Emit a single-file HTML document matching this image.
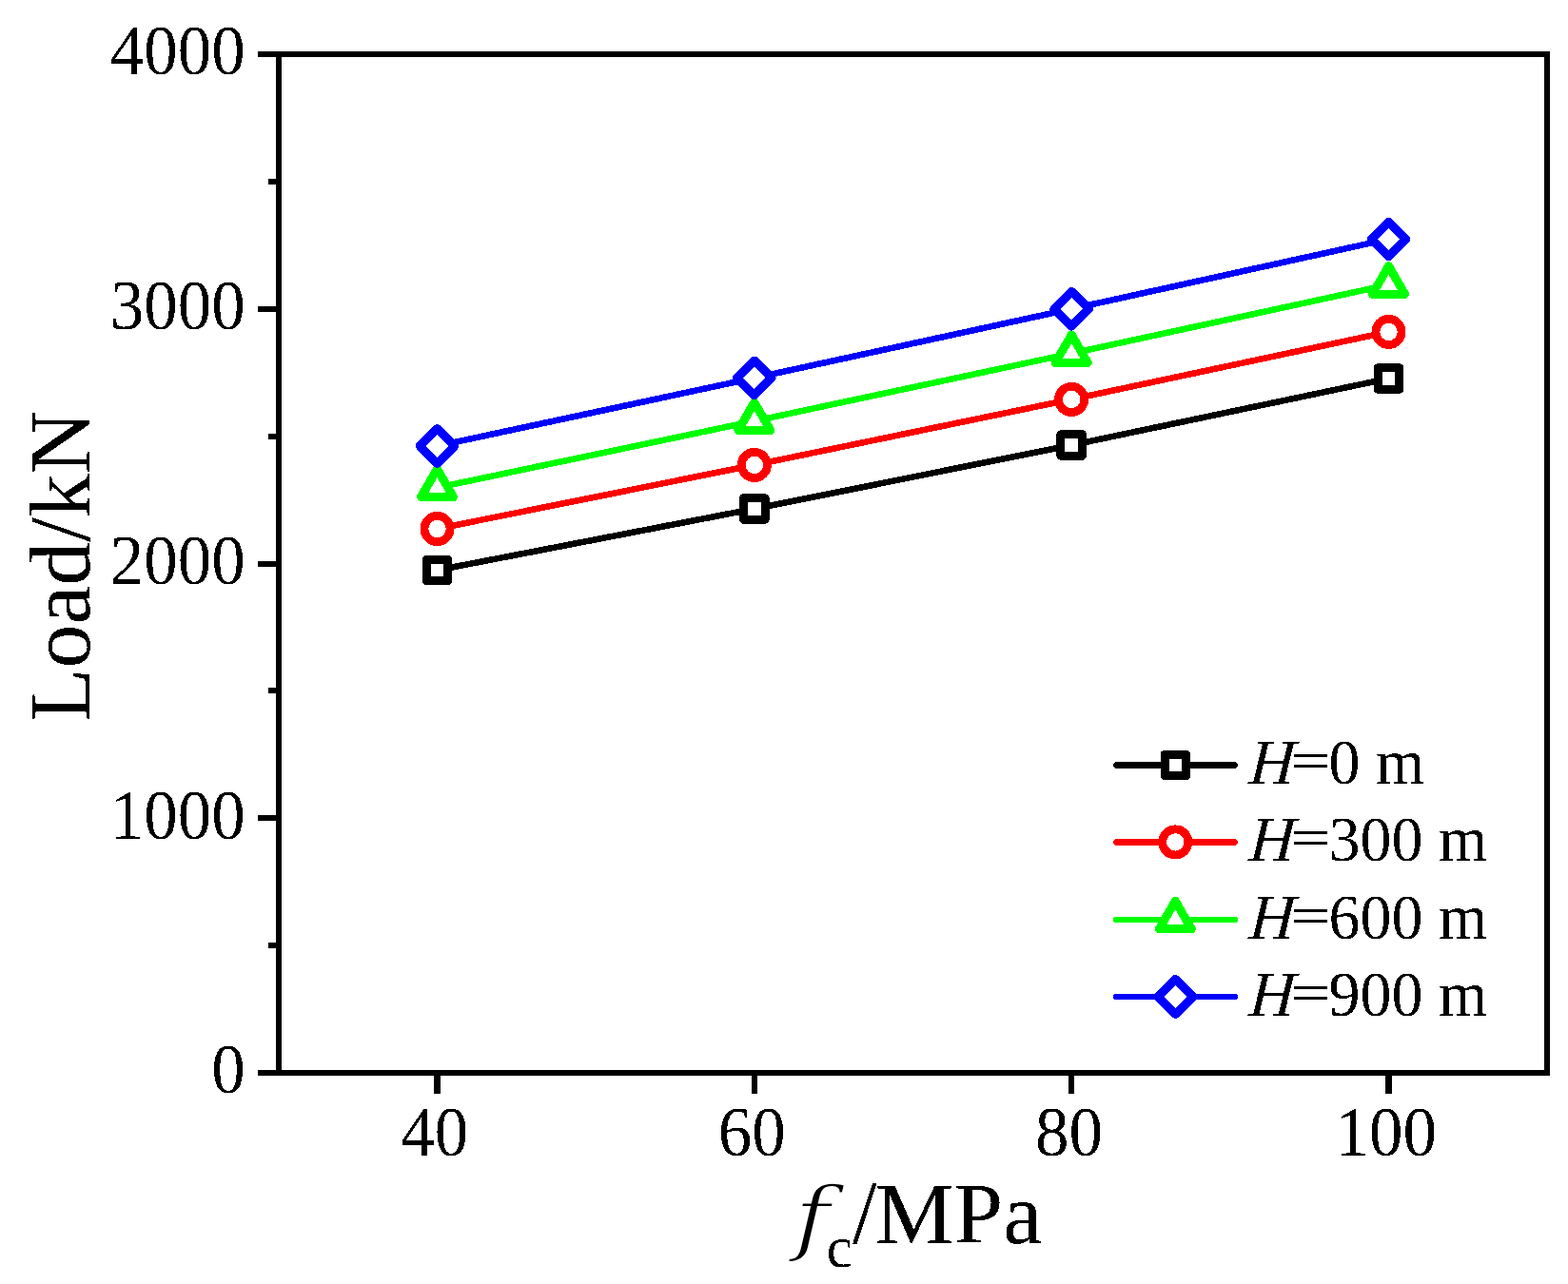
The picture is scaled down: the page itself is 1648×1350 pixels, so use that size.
<!DOCTYPE html>
<html><head><meta charset="utf-8"><title>Load vs fc</title>
<style>html,body{margin:0;padding:0;background:#fff;}svg{display:block;} .ce{shape-rendering:crispEdges;}</style></head>
<body><svg width="1648" height="1350" viewBox="0 0 1648 1350">
<rect width="1648" height="1350" fill="#fff"/>
<defs><filter id="bin" x="0" y="0" width="1648" height="1350" filterUnits="userSpaceOnUse"><feComponentTransfer><feFuncA type="discrete" tableValues="0 1"/></feComponentTransfer></filter></defs>
<g class="ce">
<path d="M293.0,57.0 H1626.0 V1128.0 H293.0 Z" fill="none" stroke="#000" stroke-width="6" stroke-linejoin="miter"/>
<line x1="271" y1="1128.00" x2="293.0" y2="1128.00" stroke="#000" stroke-width="6"/>
<line x1="271" y1="860.25" x2="293.0" y2="860.25" stroke="#000" stroke-width="6"/>
<line x1="271" y1="592.50" x2="293.0" y2="592.50" stroke="#000" stroke-width="6"/>
<line x1="271" y1="324.75" x2="293.0" y2="324.75" stroke="#000" stroke-width="6"/>
<line x1="271" y1="57.00" x2="293.0" y2="57.00" stroke="#000" stroke-width="6"/>
<line x1="282" y1="994.12" x2="293.0" y2="994.12" stroke="#000" stroke-width="6"/>
<line x1="282" y1="726.38" x2="293.0" y2="726.38" stroke="#000" stroke-width="6"/>
<line x1="282" y1="458.62" x2="293.0" y2="458.62" stroke="#000" stroke-width="6"/>
<line x1="282" y1="190.88" x2="293.0" y2="190.88" stroke="#000" stroke-width="6"/>
<line x1="459.50" y1="1128.0" x2="459.50" y2="1150" stroke="#000" stroke-width="6.4"/>
<line x1="792.83" y1="1128.0" x2="792.83" y2="1150" stroke="#000" stroke-width="6.4"/>
<line x1="1126.17" y1="1128.0" x2="1126.17" y2="1150" stroke="#000" stroke-width="6.4"/>
<line x1="1459.50" y1="1128.0" x2="1459.50" y2="1150" stroke="#000" stroke-width="6.4"/>
<polyline points="459.50,599.50 792.83,535.00 1126.17,468.00 1459.50,398.00" fill="none" stroke="#000000" stroke-width="6.6" stroke-linejoin="round"/>
<polyline points="459.50,556.00 792.83,488.90 1126.17,419.90 1459.50,348.90" fill="none" stroke="#ff0000" stroke-width="6.6" stroke-linejoin="round"/>
<polyline points="459.50,512.70 792.83,442.70 1126.17,371.60 1459.50,299.40" fill="none" stroke="#00ff00" stroke-width="6.6" stroke-linejoin="round"/>
<polyline points="459.50,468.90 792.83,397.40 1126.17,324.80 1459.50,251.40" fill="none" stroke="#0000ff" stroke-width="6.6" stroke-linejoin="round"/>
<rect x="448.25" y="588.25" width="22.50" height="22.50" fill="#fff" stroke="#000000" stroke-width="9.0" stroke-linejoin="round"/>
<rect x="781.58" y="523.75" width="22.50" height="22.50" fill="#fff" stroke="#000000" stroke-width="9.0" stroke-linejoin="round"/>
<rect x="1114.92" y="456.75" width="22.50" height="22.50" fill="#fff" stroke="#000000" stroke-width="9.0" stroke-linejoin="round"/>
<rect x="1448.25" y="386.75" width="22.50" height="22.50" fill="#fff" stroke="#000000" stroke-width="9.0" stroke-linejoin="round"/>
<circle cx="459.50" cy="556.00" r="13.6" fill="#fff" stroke="#ff0000" stroke-width="8.8"/>
<circle cx="792.83" cy="488.90" r="13.6" fill="#fff" stroke="#ff0000" stroke-width="8.8"/>
<circle cx="1126.17" cy="419.90" r="13.6" fill="#fff" stroke="#ff0000" stroke-width="8.8"/>
<circle cx="1459.50" cy="348.90" r="13.6" fill="#fff" stroke="#ff0000" stroke-width="8.8"/>
<polygon points="459.50,493.07 476.50,522.51 442.50,522.51" fill="#fff" stroke="#00ff00" stroke-width="9.0" stroke-linejoin="round"/>
<polygon points="792.83,423.07 809.83,452.51 775.83,452.51" fill="#fff" stroke="#00ff00" stroke-width="9.0" stroke-linejoin="round"/>
<polygon points="1126.17,351.97 1143.17,381.41 1109.17,381.41" fill="#fff" stroke="#00ff00" stroke-width="9.0" stroke-linejoin="round"/>
<polygon points="1459.50,279.77 1476.50,309.21 1442.50,309.21" fill="#fff" stroke="#00ff00" stroke-width="9.0" stroke-linejoin="round"/>
<polygon points="459.50,450.65 477.75,468.90 459.50,487.15 441.25,468.90" fill="#fff" stroke="#0000ff" stroke-width="9.2" stroke-linejoin="round"/>
<polygon points="792.83,379.15 811.08,397.40 792.83,415.65 774.58,397.40" fill="#fff" stroke="#0000ff" stroke-width="9.2" stroke-linejoin="round"/>
<polygon points="1126.17,306.55 1144.42,324.80 1126.17,343.05 1107.92,324.80" fill="#fff" stroke="#0000ff" stroke-width="9.2" stroke-linejoin="round"/>
<polygon points="1459.50,233.15 1477.75,251.40 1459.50,269.65 1441.25,251.40" fill="#fff" stroke="#0000ff" stroke-width="9.2" stroke-linejoin="round"/>
<line x1="1173.5" y1="804.4" x2="1297.5" y2="804.4" stroke="#000000" stroke-width="6.6" stroke-linecap="round"/>
<rect x="1224.05" y="793.15" width="22.50" height="22.50" fill="#fff" stroke="#000000" stroke-width="9.0" stroke-linejoin="round"/>
<line x1="1173.5" y1="885.4" x2="1297.5" y2="885.4" stroke="#ff0000" stroke-width="6.6" stroke-linecap="round"/>
<circle cx="1235.30" cy="885.40" r="13.6" fill="#fff" stroke="#ff0000" stroke-width="8.8"/>
<line x1="1173.5" y1="967.0" x2="1297.5" y2="967.0" stroke="#00ff00" stroke-width="6.6" stroke-linecap="round"/>
<polygon points="1235.30,947.37 1252.30,976.81 1218.30,976.81" fill="#fff" stroke="#00ff00" stroke-width="9.0" stroke-linejoin="round"/>
<line x1="1173.5" y1="1048.0" x2="1297.5" y2="1048.0" stroke="#0000ff" stroke-width="6.6" stroke-linecap="round"/>
<polygon points="1235.30,1029.75 1253.55,1048.00 1235.30,1066.25 1217.05,1048.00" fill="#fff" stroke="#0000ff" stroke-width="9.2" stroke-linejoin="round"/>
</g>
<g filter="url(#bin)">
<text transform="translate(257.8,1149.40) scale(1,1.055)" font-family="Liberation Serif, serif" font-size="71" text-anchor="end">0</text>
<text transform="translate(257.8,881.65) scale(1,1.055)" font-family="Liberation Serif, serif" font-size="71" text-anchor="end">1000</text>
<text transform="translate(257.8,613.90) scale(1,1.055)" font-family="Liberation Serif, serif" font-size="71" text-anchor="end">2000</text>
<text transform="translate(257.8,346.15) scale(1,1.055)" font-family="Liberation Serif, serif" font-size="71" text-anchor="end">3000</text>
<text transform="translate(257.8,78.40) scale(1,1.055)" font-family="Liberation Serif, serif" font-size="71" text-anchor="end">4000</text>
<text transform="translate(456.80,1215.4) scale(1,1.055)" font-family="Liberation Serif, serif" font-size="71" text-anchor="middle">40</text>
<text transform="translate(790.13,1215.4) scale(1,1.055)" font-family="Liberation Serif, serif" font-size="71" text-anchor="middle">60</text>
<text transform="translate(1123.47,1215.4) scale(1,1.055)" font-family="Liberation Serif, serif" font-size="71" text-anchor="middle">80</text>
<text transform="translate(1456.80,1215.4) scale(1,1.055)" font-family="Liberation Serif, serif" font-size="71" text-anchor="middle">100</text>
<text transform="translate(94.1,758.7) rotate(-90)" font-family="Liberation Serif, serif" font-size="92">Load/kN</text>
<text transform="translate(834.5,1308.8) scale(1.2,1)" font-family="DejaVu Serif, serif" font-style="italic" font-size="86" stroke="#fff" stroke-width="2.0">f</text>
<text x="868.6" y="1331.5" font-family="Liberation Serif, serif" font-size="62">c</text>
<text transform="translate(896,1307) scale(1,1.035)" font-family="Liberation Serif, serif" font-size="92">/</text>
<text x="919.6" y="1307" font-family="Liberation Serif, serif" font-size="92" textLength="176" lengthAdjust="spacingAndGlyphs">MPa</text>
<text transform="translate(1312,824.00) scale(1,1.02) skewX(-4)" font-family="Liberation Serif, serif" font-size="66" font-style="italic">H</text>
<text transform="translate(1356.1,818.40) scale(1.15,0.84)" font-family="Liberation Serif, serif" font-size="66">=</text>
<text transform="translate(1396.4,824.00) scale(1,1.02)" font-family="Liberation Serif, serif" font-size="66">0 m</text>
<text transform="translate(1312,905.00) scale(1,1.02) skewX(-4)" font-family="Liberation Serif, serif" font-size="66" font-style="italic">H</text>
<text transform="translate(1356.1,899.40) scale(1.15,0.84)" font-family="Liberation Serif, serif" font-size="66">=</text>
<text transform="translate(1396.4,905.00) scale(1,1.02)" font-family="Liberation Serif, serif" font-size="66">300 m</text>
<text transform="translate(1312,986.60) scale(1,1.02) skewX(-4)" font-family="Liberation Serif, serif" font-size="66" font-style="italic">H</text>
<text transform="translate(1356.1,981.00) scale(1.15,0.84)" font-family="Liberation Serif, serif" font-size="66">=</text>
<text transform="translate(1396.4,986.60) scale(1,1.02)" font-family="Liberation Serif, serif" font-size="66">600 m</text>
<text transform="translate(1312,1067.60) scale(1,1.02) skewX(-4)" font-family="Liberation Serif, serif" font-size="66" font-style="italic">H</text>
<text transform="translate(1356.1,1062.00) scale(1.15,0.84)" font-family="Liberation Serif, serif" font-size="66">=</text>
<text transform="translate(1396.4,1067.60) scale(1,1.02)" font-family="Liberation Serif, serif" font-size="66">900 m</text>
</g>
</svg></body></html>
